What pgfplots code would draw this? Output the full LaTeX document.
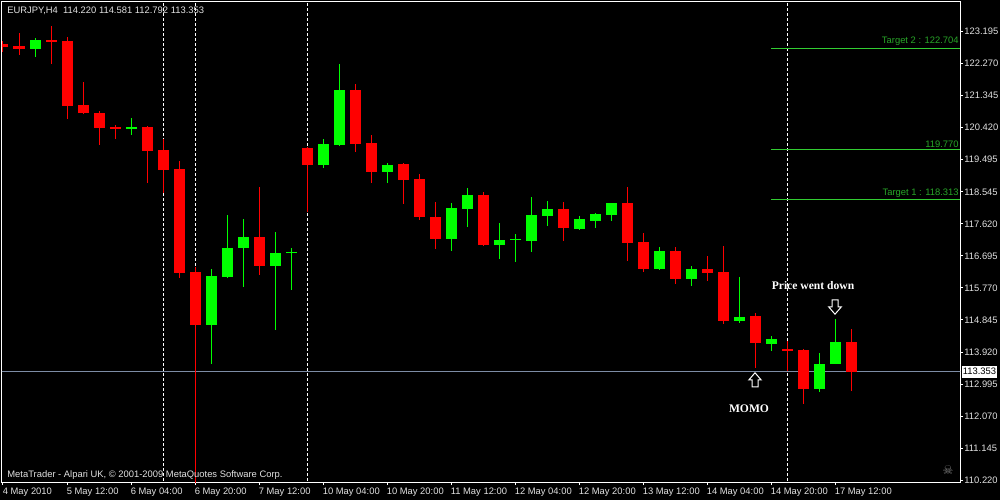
\documentclass[border=0pt]{standalone}
\usepackage{pgfplots}
\usepackage{pgfplotstable}
\pgfplotsset{compat=1.18}
\usepackage{fontspec}
\setmainfont{Liberation Sans}
\newfontfamily\serifb{Liberation Serif}
\newfontfamily\dejavu{DejaVu Sans}
\definecolor{cred}{RGB}{255,0,0}
\definecolor{cgreen}{RGB}{0,255,0}
\definecolor{tline}{RGB}{50,205,50}
\definecolor{ttext}{RGB}{40,165,40}
\definecolor{bid}{RGB}{125,140,165}
\definecolor{ltxt}{RGB}{225,225,225}

% red (bearish) candles: bar index, open, high, low, close
\pgfplotstableread{
i O H L C
0 122.821 122.908 122.599 122.743
1 122.764 123.139 122.512 122.677
3 122.937 123.342 122.252 122.888
4 122.908 123.024 120.663 121.038
5 121.058 121.723 120.798 120.827
6 120.827 120.885 119.911 120.402
7 120.423 120.480 120.085 120.374
9 120.423 120.452 118.813 119.738
10 119.758 120.076 118.524 119.189
11 119.209 119.440 116.067 116.212
12 116.232 116.377 109.900 114.709
16 117.244 118.689 116.154 116.414
19 119.816 119.845 117.975 119.333
22 121.492 121.665 119.709 119.940
23 119.960 120.191 118.813 119.131
25 119.353 119.382 118.206 118.900
26 118.920 119.064 117.744 117.830
27 117.822 118.255 116.906 117.195
30 118.457 118.544 116.992 117.021
35 118.053 118.255 117.137 117.512
39 118.226 118.697 116.559 117.079
40 117.099 117.359 116.241 116.328
42 116.839 116.955 115.894 116.030
44 116.319 116.695 115.981 116.212
45 116.232 116.984 114.738 114.825
47 114.961 115.047 113.466 114.189
49 114.007 114.247 113.380 113.958
50 113.978 114.007 112.426 112.860
53 114.220 114.581 112.792 113.353
}\redT

% green (bullish) candles
\pgfplotstableread{
i O H L C
2 122.677 122.995 122.454 122.937
8 120.374 120.683 120.200 120.423
13 114.709 116.319 113.582 116.117
14 116.096 117.879 116.067 116.926
15 116.934 117.764 115.807 117.244
17 116.414 117.388 114.565 116.781
18 116.781 116.926 115.721 116.790
20 119.333 120.076 119.246 119.931
21 119.902 122.243 119.874 121.492
24 119.131 119.382 118.813 119.324
28 117.195 118.226 116.848 118.082
29 118.061 118.660 117.541 118.457
31 117.021 117.648 116.617 117.157
32 117.157 117.330 116.530 117.165
33 117.137 118.400 116.819 117.879
34 117.859 118.284 117.570 118.053
36 117.484 117.851 117.455 117.764
37 117.715 117.937 117.512 117.908
38 117.888 118.226 117.715 118.226
41 116.319 116.955 116.290 116.839
43 116.030 116.406 115.828 116.319
46 114.825 116.088 114.767 114.932
48 114.160 114.383 113.958 114.296
51 112.860 113.891 112.773 113.573
52 113.573 114.874 113.573 114.209
}\greenT

\begin{document}
\begin{tikzpicture}
\path[use as bounding box, fill=black] (0,0) rectangle (500pt,250pt);
\begin{axis}[
  at={(1pt,9pt)}, anchor=south west,
  width=479pt, height=240pt, scale only axis,
  xmin=-0.0625, xmax=59.8125,
  ymin=110.163, ymax=124.035,
  axis background/.style={fill=black},
  axis line style={white, line width=0.5pt},
  clip mode=individual,
  xtick={0,4,...,52},
  xticklabels={4 May 2010, 5 May 12:00, 6 May 04:00, 6 May 20:00, 7 May 12:00, 10 May 04:00, 10 May 20:00, 11 May 12:00, 12 May 04:00, 12 May 20:00, 13 May 12:00, 14 May 04:00, 14 May 20:00, 17 May 12:00},
  ytick={110.220,111.145,112.070,112.995,113.920,114.845,115.770,116.695,117.620,118.545,119.495,120.420,121.345,122.270,123.195},
  yticklabels={110.220,111.145,112.070,112.995,113.920,114.845,115.770,116.695,117.620,118.545,119.495,120.420,121.345,122.270,123.195},
  xtick pos=left, ytick pos=right,
  tick align=outside, major tick length=1.5pt,
  tick style={white, line width=0.5pt},
  xticklabel style={anchor=north west, inner sep=0pt, xshift=-0.3pt, yshift=-1.5pt, text=ltxt, font=\fontsize{4.7}{5}\selectfont},
  yticklabel style={anchor=west, inner sep=0pt, xshift=0.5pt, text=ltxt, font=\fontsize{4.7}{5}\selectfont},
]
% separators
\addplot[white, line width=0.5pt, dash pattern=on 1.5pt off 1pt] coordinates {(10,105) (10,130)};
\addplot[white, line width=0.5pt, dash pattern=on 1.5pt off 1pt] coordinates {(12,105) (12,130)};
\addplot[white, line width=0.5pt, dash pattern=on 1.5pt off 1pt] coordinates {(19,105) (19,130)};
\addplot[white, line width=0.5pt, dash pattern=on 1.5pt off 1pt] coordinates {(49,105) (49,130)};
% target lines and bid line
\addplot[tline, line width=0.5pt] coordinates {(48,122.704) (59.8125,122.704)};
\addplot[tline, line width=0.5pt] coordinates {(48,119.770) (59.8125,119.770)};
\addplot[tline, line width=0.5pt] coordinates {(48,118.313) (59.8125,118.313)};
\addplot[bid, line width=0.5pt] coordinates {(-1,113.353) (61,113.353)};
% wicks (low to high)
\addplot[cred, line width=0.5pt, mark=none, quiver={u=0, v={\thisrow{H}-\thisrow{L}}}]
  table[x=i, y=L] {\redT};
\addplot[cgreen, line width=0.5pt, mark=none, quiver={u=0, v={\thisrow{H}-\thisrow{L}}}]
  table[x=i, y=L] {\greenT};
% bodies (open to close)
\addplot[cred, line width=5.5pt, mark=none, quiver={u=0, v={max(abs(\thisrow{O}-\thisrow{C}),0.03)}}]
  table[x=i, y expr={min(\thisrow{O},\thisrow{C})}] {\redT};
\addplot[cgreen, line width=5.5pt, mark=none, quiver={u=0, v={max(abs(\thisrow{O}-\thisrow{C}),0.03)}}]
  table[x=i, y expr={min(\thisrow{O},\thisrow{C})}] {\greenT};
% labels of the target lines
\node[anchor=south east, inner sep=0pt, text=ttext, font=\fontsize{4.7}{5}\selectfont, xshift=-0.5pt, yshift=1pt] at (axis cs:59.8125,122.704) {Target 2 : 122.704};
\node[anchor=south east, inner sep=0pt, text=ttext, font=\fontsize{4.7}{5}\selectfont, xshift=-0.5pt, yshift=1pt] at (axis cs:59.8125,119.770) {119.770};
\node[anchor=south east, inner sep=0pt, text=ttext, font=\fontsize{4.7}{5}\selectfont, xshift=-0.5pt, yshift=1pt] at (axis cs:59.8125,118.313) {Target 1 : 118.313};
% current price box
\node[anchor=west, fill=white, text=black, inner sep=0.6pt, minimum height=6pt, font=\fontsize{4.7}{5}\selectfont, xshift=0.6pt] at (axis cs:59.8125,113.353) {113.353};
% annotations: hollow arrows
\draw[white, fill=black, line width=0.5pt, line join=miter] (axis cs:47,112.909) ++(-1.5pt,0pt) -- ++(0pt,3.5pt) -- ++(-1.6pt,0pt) -- ++(3.1pt,3.6pt) -- ++(3.1pt,-3.6pt) -- ++(-1.6pt,0pt) -- ++(0pt,-3.5pt) -- cycle;
\draw[white, fill=black, line width=0.5pt, line join=miter] (axis cs:52,115.423) ++(-1.5pt,0pt) -- ++(0pt,-3.5pt) -- ++(-1.6pt,0pt) -- ++(3.1pt,-3.6pt) -- ++(3.1pt,3.6pt) -- ++(-1.6pt,0pt) -- ++(0pt,3.5pt) -- cycle;
\node[text=white, inner sep=0pt, font=\serifb\bfseries\fontsize{5.8}{6}\selectfont] at (axis cs:50.625,115.828) {Price went down};
\node[text=white, inner sep=0pt, font=\serifb\bfseries\fontsize{5.8}{6}\selectfont] at (axis cs:46.625,112.273) {MOMO};
% header, footer, icon
\node[anchor=west, inner sep=0pt, text=ltxt, font=\fontsize{4.7}{5}\selectfont, xshift=2.5pt, yshift=-4.5pt] at (rel axis cs:0,1) {EURJPY,H4\ \ 114.220 114.581 112.792 113.353};
\node[anchor=west, inner sep=0pt, text=ltxt, font=\fontsize{4.7}{5}\selectfont, xshift=2.5pt, yshift=3.5pt] at (rel axis cs:0,0) {MetaTrader - Alpari UK, © 2001-2009 MetaQuotes Software Corp.};
\node[inner sep=0pt, text=gray, font=\dejavu\fontsize{6}{6}\selectfont, xshift=-6pt, yshift=6pt] at (rel axis cs:1,0) {☠};
\end{axis}
\end{tikzpicture}
\end{document}
